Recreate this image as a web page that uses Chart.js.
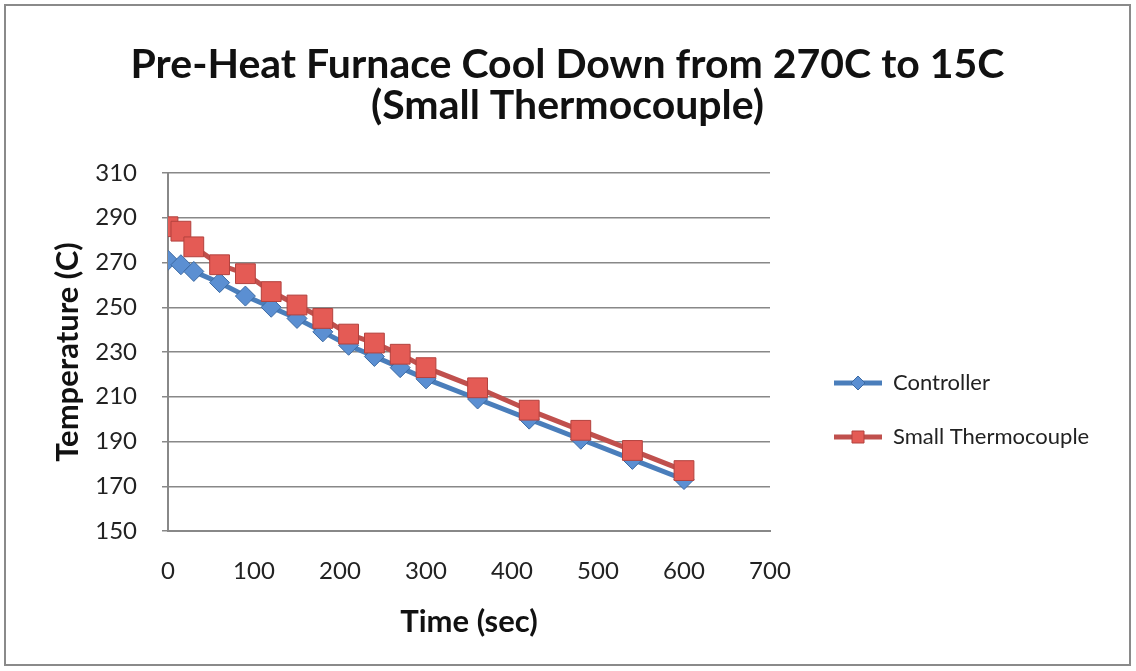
<!DOCTYPE html>
<html lang="en">
<head>
  <meta charset="UTF-8" />
  <title>Pre-Heat Furnace Cool Down</title>
  <script src="https://cdn.jsdelivr.net/npm/chart.js"></script>
  <style>
    body { margin: 0; background: #fff; }
    #frame {
      position: absolute; left: 4px; top: 4px;
      width: 1127px; height: 662px;
      box-sizing: border-box; border: 2px solid #8a8a8a;
    }
  </style>
</head>
<body>
  <div id="frame"><canvas id="coolChart"></canvas></div>

  <script>
    // time stamps (sec) and readings (C)
    const timeSec = [0, 15, 30, 60, 90, 120, 150, 180, 210, 240, 270, 300, 360, 420, 480, 540, 600];
    const controllerTemp = [271, 269, 266, 261, 255, 250, 245, 239, 233, 228, 223, 218, 209, 200, 191, 182, 173];
    const thermocoupleTemp = [286, 284, 277, 269, 265, 257, 251, 245, 238, 234, 229, 223, 214, 204, 195, 186, 177];

    const seriesNames = ['Controller', 'Small Thermocouple'];
    const yMin = 150, yMax = 310, yStep = 20;
    const xMin = 0, xMax = 700, xStep = 100;

    const blue = { line: '#4a7ebb', fill: '#5b8fd2', edge: '#3c6aa3' };
    const red = { line: '#c0504d', fill: '#e45b55', edge: '#b3423e' };

    const font = "Lato, 'Open Sans', sans-serif";
    const legendWidth = 359;

    // legend sample: thick line with the marker in the middle
    function legendSample(c, shape) {
      const cv = document.createElement('canvas');
      cv.width = 80; cv.height = 20;
      const g = cv.getContext('2d');
      g.strokeStyle = c.line; g.lineWidth = 5;
      g.beginPath(); g.moveTo(32, 10); g.lineTo(80, 10); g.stroke();
      g.fillStyle = c.fill; g.strokeStyle = c.edge; g.lineWidth = 1;
      g.beginPath();
      if (shape === 'diamond') {
        g.moveTo(56, 3); g.lineTo(63, 10); g.lineTo(56, 17); g.lineTo(49, 10);
      } else {
        g.rect(50, 4, 12, 12);
      }
      g.closePath(); g.fill(); g.stroke();
      return cv;
    }

    // let the legend be wider than the default half-of-half limit
    const wideLegend = {
      id: 'wideLegend',
      afterInit(chart) {
        const lg = chart.legend;
        const fit = lg.fit;
        lg.fit = function () {
          fit.call(this);
          this.width = legendWidth;
        };
      }
    };

    const toPoints = (vals) => vals.map((v, i) => ({ x: timeSec[i], y: v }));

    const ctx = document.getElementById('coolChart').getContext('2d');

    new Chart(ctx, {
      type: 'line',
      data: {
        datasets: [
          {
            label: seriesNames[0],
            data: toPoints(controllerTemp),
            borderColor: blue.line,
            borderWidth: 5,
            pointStyle: 'rectRot',
            pointRadius: 10,
            pointBackgroundColor: blue.fill,
            pointBorderColor: blue.edge,
            pointBorderWidth: 1,
            order: 1
          },
          {
            label: seriesNames[1],
            data: toPoints(thermocoupleTemp),
            borderColor: red.line,
            borderWidth: 5,
            pointStyle: 'rect',
            pointRadius: 14,
            pointBackgroundColor: red.fill,
            pointBorderColor: red.edge,
            pointBorderWidth: 1,
            order: 0
          }
        ]
      },
      options: {
        responsive: true,
        maintainAspectRatio: false,
        animation: false,
        layout: { padding: { left: 0, right: 0, top: 0, bottom: 23 } },
        plugins: {
          title: {
            display: true,
            text: ['Pre-Heat Furnace Cool Down from 270C to 15C', '(Small Thermocouple)'],
            color: '#111',
            font: { family: font, size: 41, weight: 'bold', lineHeight: 1.0 },
            padding: { top: 38, bottom: 47 }
          },
          legend: {
            position: 'right',
            title: { display: true, text: ' ', font: { size: 8, lineHeight: 1 }, padding: { top: 165, bottom: 0 } },
            labels: {
              usePointStyle: true,
              pointStyleWidth: 80,
              padding: 32,
              color: '#222',
              font: { family: font, size: 22 },
              generateLabels: (chart) => chart.data.datasets.map((ds, i) => ({
                text: ds.label,
                pointStyle: legendSample(i === 0 ? blue : red, i === 0 ? 'diamond' : 'square'),
                fillStyle: ds.borderColor,
                strokeStyle: ds.borderColor,
                lineWidth: 0,
                hidden: false,
                datasetIndex: i,
                fontColor: '#222'
              }))
            }
          },
          tooltip: { enabled: false }
        },
        scales: {
          x: {
            type: 'linear',
            min: xMin, max: xMax,
            ticks: { stepSize: xStep, color: '#222', padding: 18, font: { family: font, size: 24 } },
            grid: { display: false, tickLength: 8 },
            border: { display: true, color: '#888', width: 2 },
            title: {
              display: true, text: 'Time (sec)', color: '#111',
              font: { family: font, size: 31, weight: 'bold' },
              padding: { top: 0, bottom: 0 }
            }
          },
          y: {
            min: yMin, max: yMax,
            ticks: { stepSize: yStep, color: '#222', padding: 25, font: { family: font, size: 24 } },
            grid: { color: '#888', lineWidth: 1.5, tickLength: 6 },
            border: { display: true, color: '#888', width: 2 },
            title: {
              display: true, text: 'Temperature (C)', color: '#111',
              font: { family: font, size: 31, weight: 'bold' },
              padding: { top: 43, bottom: 0 }
            },
            afterFit: (scale) => { scale.width = 162; }
          }
        }
      },
      plugins: [wideLegend]
    });
  </script>
</body>
</html>
